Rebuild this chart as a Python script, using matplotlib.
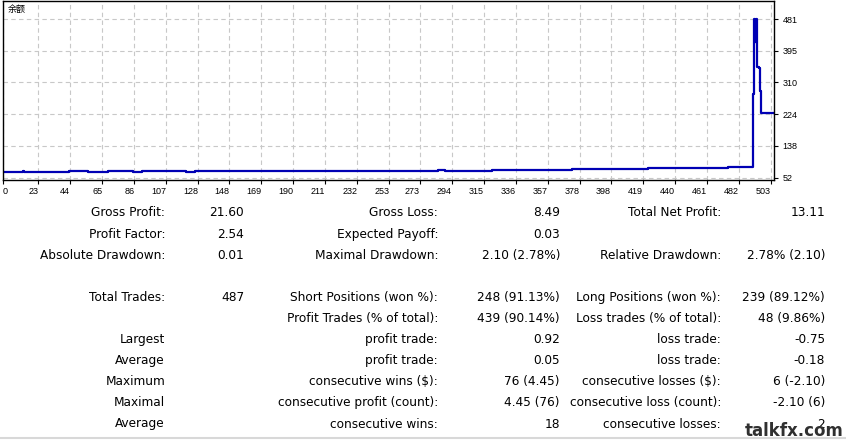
import matplotlib
matplotlib.use("Agg")
import matplotlib.pyplot as plt

# balance curve (trade number -> balance)
trade_no = [0, 13, 14, 43, 56, 69, 85, 91, 120, 126, 285, 289.5, 320, 373,
            422.5, 475, 491.5, 492.2, 492.8, 493.4, 493.8, 495.3, 496, 496.5, 505]
balance = [67.4, 70.0, 67.4, 70.6, 66.3, 70.6, 66.3, 70.6, 66.3, 70.6, 73.3, 69.8,
           73.3, 76.0, 78.7, 81.4, 277, 481, 418, 481, 352, 349, 287, 226, 226]

x_ticks = [0, 23, 44, 65, 86, 107, 128, 148, 169, 190, 211, 232, 253, 273, 294,
           315, 336, 357, 378, 398, 419, 440, 461, 482, 503]
y_ticks = [52, 138, 224, 310, 395, 481]

# report rows: (label1, value1, label2, value2, label3, value3)
rows = [
    ("Gross Profit:", "21.60", "Gross Loss:", "8.49", "Total Net Profit:", "13.11"),
    ("Profit Factor:", "2.54", "Expected Payoff:", "0.03", "", ""),
    ("Absolute Drawdown:", "0.01", "Maximal Drawdown:", "2.10 (2.78%)", "Relative Drawdown:", "2.78% (2.10)"),
    None,
    ("Total Trades:", "487", "Short Positions (won %):", "248 (91.13%)", "Long Positions (won %):", "239 (89.12%)"),
    ("", "", "Profit Trades (% of total):", "439 (90.14%)", "Loss trades (% of total):", "48 (9.86%)"),
    ("Largest", "", "profit trade:", "0.92", "loss trade:", "-0.75"),
    ("Average", "", "profit trade:", "0.05", "loss trade:", "-0.18"),
    ("Maximum", "", "consecutive wins ($):", "76 (4.45)", "consecutive losses ($):", "6 (-2.10)"),
    ("Maximal", "", "consecutive profit (count):", "4.45 (76)", "consecutive loss (count):", "-2.10 (6)"),
    ("Average", "", "consecutive wins:", "18", "consecutive losses:", "2"),
]

W, H = 846, 441
fig = plt.figure(figsize=(W / 100, H / 100), dpi=100)

ax = fig.add_axes([3 / W, 1 - 180 / H, 771 / W, 179 / H])
ax.plot(trade_no, balance, drawstyle="steps-post", color="#0000B4", lw=1.6)
ax.set_xlim(0, 505)
ax.set_ylim(45.8, 529.7)

ax.set_xticks(x_ticks)
ax.set_xticklabels([str(t) for t in x_ticks], fontsize=6.5, family="Liberation Sans")
for i, lab in enumerate(ax.get_xticklabels()):
    lab.set_horizontalalignment("left" if i == 0 else "right")
ax.set_yticks(y_ticks)
ax.set_yticklabels([str(t) for t in y_ticks], fontsize=6.5, family="Liberation Sans")
ax.yaxis.tick_right()
ax.tick_params(axis="both", length=3, width=0.8, pad=2, colors="black")
ax.tick_params(axis="y", pad=3)
ax.grid(True, color="#C8C8C8", linestyle=(0, (4, 3)), lw=0.8)
for s in ax.spines.values():
    s.set_linewidth(1.0)
    s.set_color("black")

ax.text(0.006, 0.955, "余额", transform=ax.transAxes, fontsize=6.5,
        family=["Noto Sans CJK SC", "DejaVu Sans"], va="center", ha="left")

# statistics table
col_right = [165, 244, 438, 560, 721, 825]
y0, dy = 213, 21.1
for r, row in enumerate(rows):
    if row is None:
        continue
    y = y0 + r * dy
    for c, txt in enumerate(row):
        if txt:
            fig.text(col_right[c] / W, 1 - y / H, txt, ha="right", va="center",
                     fontsize=8.7, family="DejaVu Sans")

# bottom band and watermark
fig.add_artist(plt.Line2D([0, 1], [1 - 438 / H, 1 - 438 / H], color="#D8D8D8", lw=1.5))
fig.text(844 / W, 1 - 431 / H, "talkfx.com", ha="right", va="center", fontsize=12,
         fontweight="bold", color="#303030", family="DejaVu Sans")

fig.savefig("out.png", dpi=100)
